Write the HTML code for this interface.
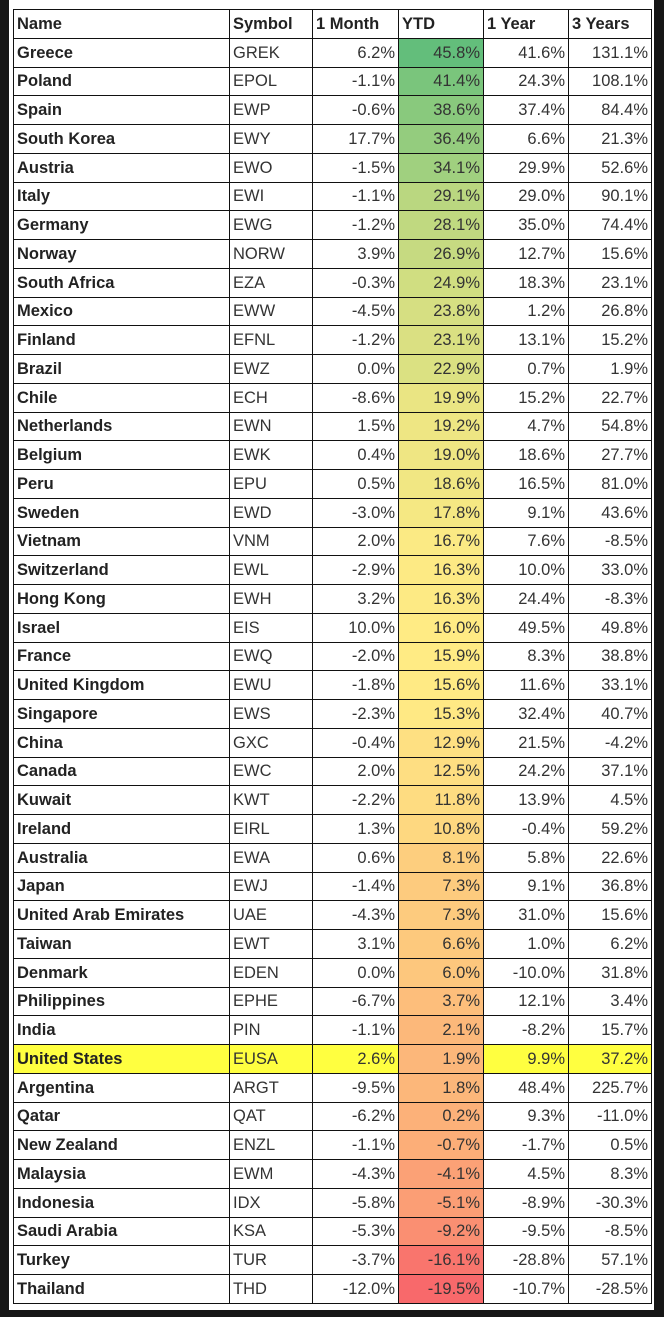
<!DOCTYPE html>
<html><head><meta charset="utf-8"><style>
html,body{margin:0;padding:0;width:664px;height:1317px;background:#161616;overflow:hidden}
#sheet{position:absolute;left:9px;top:0;width:645px;height:1310px;background:#fff}
table{position:absolute;left:13px;top:9px;height:1295px;border-collapse:collapse;table-layout:fixed;font-family:"Liberation Sans",Arial,sans-serif;font-size:16.5px;color:#222}
td{border:1px solid #111;padding:0 3px;white-space:nowrap;overflow:hidden;line-height:20px;box-sizing:border-box}
td.n{font-weight:bold;font-size:16.5px}
td.s{text-align:left;color:#333}
td.r{text-align:right;color:#333}
tr.h td{font-weight:bold;color:#222}
tr.us td{background:#ffff40}
</style></head><body>
<div id="sheet"></div>
<table id="t">
<colgroup><col style="width:216px"><col style="width:83px"><col style="width:86px"><col style="width:85px"><col style="width:85px"><col style="width:83px"></colgroup>
<tr class="h"><td>Name</td><td>Symbol</td><td>1 Month</td><td>YTD</td><td>1 Year</td><td>3 Years</td></tr>
</table>
<script>
var d=[["Greece","GREK",6.2,45.8,41.6,131.1],["Poland","EPOL",-1.1,41.4,24.3,108.1],["Spain","EWP",-0.6,38.6,37.4,84.4],["South Korea","EWY",17.7,36.4,6.6,21.3],["Austria","EWO",-1.5,34.1,29.9,52.6],["Italy","EWI",-1.1,29.1,29.0,90.1],["Germany","EWG",-1.2,28.1,35.0,74.4],["Norway","NORW",3.9,26.9,12.7,15.6],["South Africa","EZA",-0.3,24.9,18.3,23.1],["Mexico","EWW",-4.5,23.8,1.2,26.8],["Finland","EFNL",-1.2,23.1,13.1,15.2],["Brazil","EWZ",0.0,22.9,0.7,1.9],["Chile","ECH",-8.6,19.9,15.2,22.7],["Netherlands","EWN",1.5,19.2,4.7,54.8],["Belgium","EWK",0.4,19.0,18.6,27.7],["Peru","EPU",0.5,18.6,16.5,81.0],["Sweden","EWD",-3.0,17.8,9.1,43.6],["Vietnam","VNM",2.0,16.7,7.6,-8.5],["Switzerland","EWL",-2.9,16.3,10.0,33.0],["Hong Kong","EWH",3.2,16.3,24.4,-8.3],["Israel","EIS",10.0,16.0,49.5,49.8],["France","EWQ",-2.0,15.9,8.3,38.8],["United Kingdom","EWU",-1.8,15.6,11.6,33.1],["Singapore","EWS",-2.3,15.3,32.4,40.7],["China","GXC",-0.4,12.9,21.5,-4.2],["Canada","EWC",2.0,12.5,24.2,37.1],["Kuwait","KWT",-2.2,11.8,13.9,4.5],["Ireland","EIRL",1.3,10.8,-0.4,59.2],["Australia","EWA",0.6,8.1,5.8,22.6],["Japan","EWJ",-1.4,7.3,9.1,36.8],["United Arab Emirates","UAE",-4.3,7.3,31.0,15.6],["Taiwan","EWT",3.1,6.6,1.0,6.2],["Denmark","EDEN",0.0,6.0,-10.0,31.8],["Philippines","EPHE",-6.7,3.7,12.1,3.4],["India","PIN",-1.1,2.1,-8.2,15.7],["United States","EUSA",2.6,1.9,9.9,37.2],["Argentina","ARGT",-9.5,1.8,48.4,225.7],["Qatar","QAT",-6.2,0.2,9.3,-11.0],["New Zealand","ENZL",-1.1,-0.7,-1.7,0.5],["Malaysia","EWM",-4.3,-4.1,4.5,8.3],["Indonesia","IDX",-5.8,-5.1,-8.9,-30.3],["Saudi Arabia","KSA",-5.3,-9.2,-9.5,-8.5],["Turkey","TUR",-3.7,-16.1,-28.8,57.1],["Thailand","THD",-12.0,-19.5,-10.7,-28.5]];
var mn=-19.5,mx=45.8,md=15.95;
function mix(a,b,f){return 'rgb('+a.map(function(v,i){return Math.round(v+(b[i]-v)*f)}).join(',')+')'}
var R=[248,105,107],Y=[255,235,132],G=[99,190,123];
function col(v){return v<md?mix(R,Y,(v-mn)/(md-mn)):mix(Y,G,(v-md)/(mx-md))}
var t=document.getElementById('t'),h='';
d.forEach(function(r){
 h+='<tr'+(r[0]=='United States'?' class="us"':'')+'><td class="n">'+r[0]+'</td><td class="s">'+r[1]+'</td><td class="r">'+r[2].toFixed(1)+'%</td><td class="r" style="background:'+col(r[3])+'">'+r[3].toFixed(1)+'%</td><td class="r">'+r[4].toFixed(1)+'%</td><td class="r">'+r[5].toFixed(1)+'%</td></tr>';
});
t.insertAdjacentHTML('beforeend',h);
</script>
</body></html>
